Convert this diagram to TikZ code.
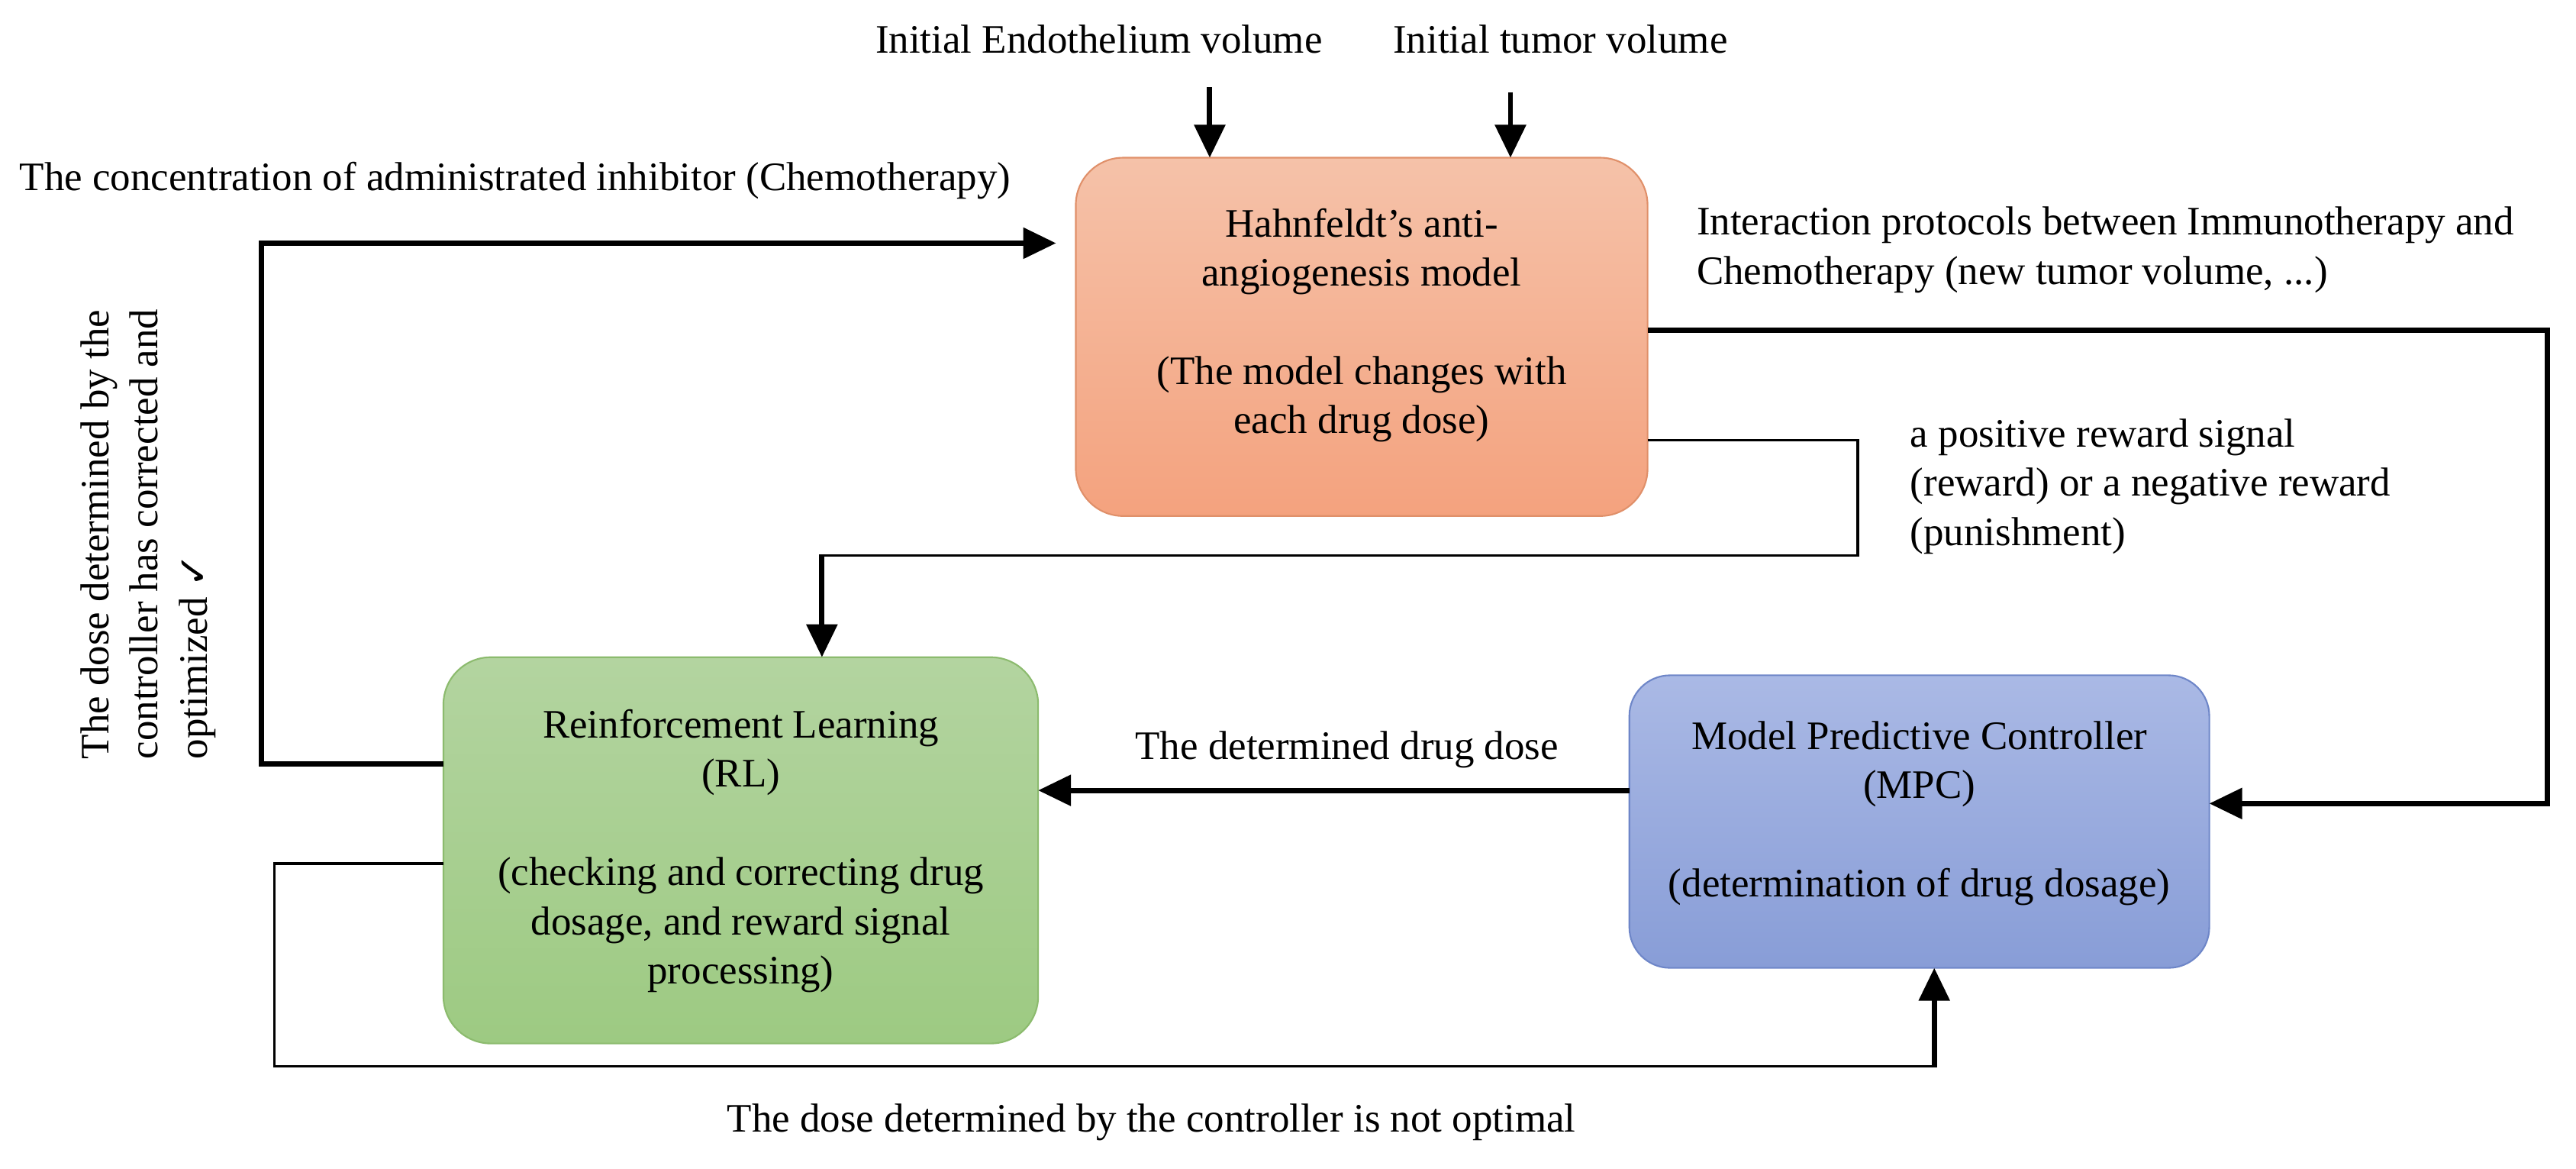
\documentclass[tikz,border=0pt]{standalone}
\usepackage{fontspec}
\setmainfont{Liberation Serif}
\newfontfamily\checkfont{DejaVu Sans}
\usetikzlibrary{arrows.meta}
\newcommand\myfs{\fontsize{17.5pt}{21.3pt}\selectfont}
\definecolor{hahntop}{HTML}{F5C2A9}
\definecolor{hahnbot}{HTML}{F4A27E}
\definecolor{hahnedge}{HTML}{E0906A}
\definecolor{rltop}{HTML}{B3D4A0}
\definecolor{rlbot}{HTML}{9DCA82}
\definecolor{rledge}{HTML}{8CBB6E}
\definecolor{mpctop}{HTML}{AAB9E5}
\definecolor{mpcbot}{HTML}{889DD7}
\definecolor{mpcedge}{HTML}{6E86C8}
\begin{document}
\begin{tikzpicture}[x=0.025cm,y=-0.025cm,
  every node/.style={font=\myfs,inner sep=0pt,outer sep=0pt,text=black},
  procbox/.style={rounded corners=0.72cm,line width=0.7pt},
  hahnbox/.style={procbox,draw=hahnedge,top color=hahntop,bottom color=hahnbot,minimum width=8.7cm,minimum height=5.45cm},
  rlbox/.style={procbox,draw=rledge,top color=rltop,bottom color=rlbot,minimum width=9.05cm,minimum height=5.875cm},
  mpcbox/.style={procbox,rounded corners=0.62cm,draw=mpcedge,top color=mpctop,bottom color=mpcbot,minimum width=8.825cm,minimum height=4.45cm},
  boxtext/.style={align=center},
  lbl/.style={align=left},
  thickarrow/.style={line width=2.3pt,-{Triangle[length=0.5cm,width=0.46cm]}},
  thinline/.style={line width=1.15pt}
]
\useasboundingbox (0,0) rectangle (1568.3,711.4);

% boxes
\node[hahnbox] (hahn) at (829,205) {};
\node[rlbox] (rl) at (451,517.5) {};
\node[mpcbox] (mpc) at (1168.5,500) {};

\node[boxtext] (hahntext) at (829,198) {Hahnfeldt's anti-\\angiogenesis model\\[21.3pt](The model changes with\\each drug dose)};
\node[boxtext] (rltext) at (451,518) {Reinforcement Learning\\(RL)\\[21.3pt](checking and correcting drug\\dosage, and reward signal\\processing)};
\node[boxtext] (mpctext) at (1168.5,495) {Model Predictive Controller\\(MPC)\\[21.3pt](determination of drug dosage)};

% labels
\node[anchor=base] (endo) at (669,32.5) {Initial Endothelium volume};
\node[anchor=base] (tumor) at (950,32.5) {Initial tumor volume};
\node[anchor=base west] (conc) at (12,116) {The concentration of administrated inhibitor (Chemotherapy)};
\node[lbl,anchor=north west] (inter) at (1033,126) {Interaction protocols between Immunotherapy and\\Chemotherapy (new tumor volume, ...)};
\node[lbl,anchor=north west] (reward) at (1163,255) {a positive reward signal\\(reward) or a negative reward\\(punishment)};
\node[anchor=base] (detdose) at (820,462) {The determined drug dose};
\node[anchor=base] (notopt) at (701,689) {The dose determined by the controller is not optimal};
\node[lbl,rotate=90,anchor=north west] (optim) at (49,462) {The dose determined by the\\controller has corrected and\\optimized {\checkfont ✓}};

% coordinates
\coordinate (e0) at (736.5,53);
\coordinate (t0) at (919.6,56);
\coordinate (l1) at (159,465);
\coordinate (l2) at (159,148);
\coordinate (r1) at (1551,201);
\coordinate (r2) at (1551,489);
\coordinate (w1) at (1131,268);
\coordinate (w2) at (1131,338);
\coordinate (w3) at (500.4,338);
\coordinate (d1) at (1000,481);
\coordinate (b1) at (167,525.5);
\coordinate (b2) at (167,649);
\coordinate (b3) at (1177.6,649);

% connectors
\draw[thickarrow] (e0) -- (e0 |- hahn.north);
\draw[thickarrow] (t0) -- (t0 |- hahn.north);
\draw[thickarrow,shorten >=0.3cm] (rl.west |- l1) -- (l1) -- (l2) -- (l2 -| hahn.west);
\draw[thickarrow] (hahn.east |- r1) -- (r1) -- (r2) -- (r2 -| mpc.east);
\draw[thinline] (hahn.east |- w1) -- (w1) -- (w2) -- (w3);
\draw[thickarrow,shorten <=-0.02cm] (w3) -- (w3 |- rl.north);
\draw[thickarrow] (mpc.west |- d1) -- (rl.east |- d1);
\draw[thinline] (rl.west |- b1) -- (b1) -- (b2) -- (b3);
\draw[thickarrow,shorten <=-0.02cm] (b3) -- (b3 |- mpc.south);
\end{tikzpicture}
\end{document}
